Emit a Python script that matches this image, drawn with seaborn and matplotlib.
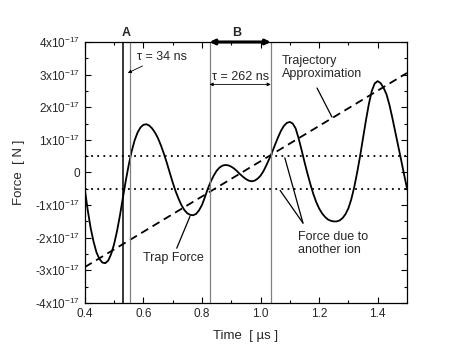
import numpy as np
import pandas as pd
import matplotlib
matplotlib.use("Agg")
import matplotlib.pyplot as plt
import seaborn as sns

# ---- data (force in units of 1e-17 N, time in us) ----
time_us = [0.40, 0.41, 0.42, 0.43, 0.44, 0.45, 0.46, 0.47, 0.48, 0.49,
           0.50, 0.51, 0.52, 0.53, 0.54, 0.55, 0.56, 0.57, 0.58, 0.59,
           0.60, 0.61, 0.62, 0.63, 0.64, 0.65, 0.66, 0.67, 0.68, 0.69,
           0.70, 0.71, 0.72, 0.73, 0.74, 0.75, 0.76, 0.77, 0.78, 0.79,
           0.80, 0.81, 0.82, 0.83, 0.84, 0.85, 0.86, 0.87, 0.88, 0.89,
           0.90, 0.91, 0.92, 0.93, 0.94, 0.95, 0.96, 0.97, 0.98, 0.99,
           1.00, 1.01, 1.02, 1.03, 1.04, 1.05, 1.06, 1.07, 1.08, 1.09,
           1.10, 1.11, 1.12, 1.13, 1.14, 1.15, 1.16, 1.17, 1.18, 1.19,
           1.20, 1.21, 1.22, 1.23, 1.24, 1.25, 1.26, 1.27, 1.28, 1.29,
           1.30, 1.31, 1.32, 1.33, 1.34, 1.35, 1.36, 1.37, 1.38, 1.39,
           1.40, 1.41, 1.42, 1.43, 1.44, 1.45, 1.46, 1.47, 1.48, 1.49, 1.50]
force_e17 = [-0.50, -1.15, -1.70, -2.12, -2.45, -2.65, -2.76, -2.78, -2.70, -2.50,
             -2.20, -1.80, -1.32, -0.78, -0.25, 0.23, 0.65, 0.98, 1.22, 1.38,
             1.46, 1.48, 1.44, 1.35, 1.22, 1.05, 0.83, 0.58, 0.30, 0.00,
             -0.30, -0.57, -0.80, -1.00, -1.15, -1.25, -1.30, -1.31, -1.27, -1.16,
             -1.00, -0.76, -0.50, -0.28, -0.10, 0.05, 0.15, 0.21, 0.23, 0.22,
             0.18, 0.12, 0.04, -0.05, -0.13, -0.20, -0.25, -0.27, -0.25, -0.19,
             -0.10, 0.04, 0.22, 0.42, 0.63, 0.86, 1.08, 1.28, 1.43, 1.52,
             1.55, 1.50, 1.35, 1.05, 0.70, 0.33, -0.02, -0.35, -0.65, -0.90,
             -1.10, -1.25, -1.36, -1.44, -1.48, -1.50, -1.50, -1.47, -1.40, -1.28,
             -1.10, -0.82, -0.45, 0.00, 0.50, 1.05, 1.60, 2.10, 2.50, 2.73,
             2.80, 2.74, 2.60, 2.40, 2.08, 1.68, 1.25, 0.82, 0.39, -0.05, -0.48]
traj_time = [0.40, 1.50]
traj_force = [-2.90, 3.05]
band_levels = [0.5, -0.5]
marker_A = 0.532
marker_tau34 = 0.555
marker_B = [0.826, 1.035]
y_ticks = [4, 3, 2, 1, 0, -1, -2, -3, -4]
y_tick_labels = ["4x10$^{-17}$", "3x10$^{-17}$", "2x10$^{-17}$", "1x10$^{-17}$", "0",
                 "-1x10$^{-17}$", "-2x10$^{-17}$", "-3x10$^{-17}$", "-4x10$^{-17}$"]
x_ticks = [0.4, 0.6, 0.8, 1.0, 1.2, 1.4]
x_tick_labels = ["0.4", "0.6", "0.8", "1.0", "1.2", "1.4"]

sns.set_style("ticks")
plt.rcParams["font.family"] = ["Liberation Sans", "DejaVu Sans"]
plt.rcParams["mathtext.fontset"] = "custom"
plt.rcParams["mathtext.rm"] = "Liberation Sans"
plt.rcParams["mathtext.it"] = "Liberation Sans:italic"

fig = plt.figure(figsize=(4.71, 3.62), dpi=100)
ax = fig.add_axes([0.180, 0.163, 0.684, 0.721])

df = pd.DataFrame({"t": time_us, "f": force_e17})
dft = pd.DataFrame({"t": traj_time, "f": traj_force})
sns.lineplot(data=df, x="t", y="f", ax=ax, color="black", lw=1.3, sort=False,
             solid_joinstyle="round")
sns.lineplot(data=dft, x="t", y="f", ax=ax, color="black", lw=1.3,
             linestyle=(0, (4.5, 2.8)))
for lv in band_levels:
    ax.axhline(lv, color="black", lw=1.3, linestyle=(0, (1, 2.4)))

ax.axvline(marker_A, color="black", lw=1.1)
ax.axvline(marker_tau34, color="#808080", lw=0.9)
for xb in marker_B:
    ax.axvline(xb, color="#808080", lw=0.9)

ax.set_xlim(0.4, 1.5)
ax.set_ylim(-4, 4)
ax.set_xticks(x_ticks)
ax.set_xticklabels(x_tick_labels)
ax.set_yticks(y_ticks)
ax.set_yticklabels(y_tick_labels)
ax.set_xticks(np.arange(0.5, 1.5, 0.2), minor=True)
ax.set_yticks(np.arange(-3.5, 4, 1.0), minor=True)
ax.tick_params(which="both", direction="in", top=True, right=True, labelsize=8.5,
               color="black", width=0.8)
ax.tick_params(which="major", length=4)
ax.tick_params(which="minor", length=2.5)
for s in ax.spines.values():
    s.set_color("black")
    s.set_linewidth(0.9)

ax.set_xlabel("Time  [ \u00b5s ]", fontsize=9.5, labelpad=7)
ax.set_ylabel("Force  [ N ]", fontsize=9.5, labelpad=7)

fs = 9
# A and B markers
ax.text(0.543, 4.08, "A", fontsize=9, fontweight="bold", ha="center", va="bottom")
ax.text(0.920, 4.08, "B", fontsize=9, fontweight="bold", ha="center", va="bottom")
ax.annotate("", xy=(marker_B[0], 4.0), xytext=(marker_B[1], 4.0),
            arrowprops=dict(arrowstyle="<|-|>", color="black", lw=2.2,
                            mutation_scale=7, shrinkA=0, shrinkB=0),
            annotation_clip=False)

# tau = 34 ns
ax.annotate("\u03c4 = 34 ns", xy=(0.547, 3.05), xytext=(0.578, 3.55), fontsize=fs,
            ha="left", va="center",
            arrowprops=dict(arrowstyle="-|>", color="black", lw=0.6,
                            mutation_scale=5, shrinkA=0, shrinkB=0))
# tau = 262 ns
ax.text(0.931, 2.92, "\u03c4 = 262 ns", fontsize=fs, ha="center", va="center")
ax.annotate("", xy=(marker_B[0], 2.70), xytext=(marker_B[1], 2.70),
            arrowprops=dict(arrowstyle="<|-|>", color="black", lw=0.6,
                            mutation_scale=5, shrinkA=0, shrinkB=0))

# Trajectory approximation
ax.text(1.072, 3.22, "Trajectory\nApproximation", fontsize=fs, ha="left", va="center",
        linespacing=1.1)
ax.plot([1.193, 1.244], [2.59, 1.70], color="black", lw=0.9)

# Force due to another ion
ax.text(1.128, -2.17, "Force due to\nanother ion", fontsize=fs, ha="left", va="center",
        linespacing=1.1)
ax.plot([1.145, 1.083], [-1.55, 0.45], color="black", lw=0.9)
ax.plot([1.145, 1.067], [-1.55, -0.55], color="black", lw=0.9)

# Trap force
ax.text(0.704, -2.62, "Trap Force", fontsize=fs, ha="center", va="center")
ax.plot([0.714, 0.759], [-2.32, -1.35], color="black", lw=0.9)

fig.savefig("out.png", dpi=100)
